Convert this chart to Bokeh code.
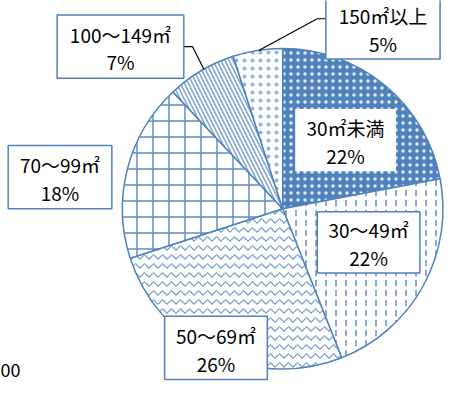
import math
from bokeh.plotting import figure
from bokeh.models import Range1d
from bokeh.core.properties import value
from bokeh.embed import file_html
from bokeh.resources import INLINE

# ---- data ----
categories = ["30㎡未満", "30～49㎡", "50～69㎡", "70～99㎡", "100～149㎡", "150㎡以上"]
shares = [22, 22, 26, 18, 7, 5]
pct_labels = ["22%", "22%", "26%", "18%", "7%", "5%"]

# ---- styles ----
BLUE = "#4F81BD"
fills = [BLUE, "white", "white", "white", "white", "white"]
hatches = ["dot", "vertical_dash", "horizontal_wave", "cross", "left_diagonal_line", "dot"]
hatch_colors = ["white", BLUE, BLUE, BLUE, BLUE, BLUE]
hatch_scales = [7, 10, 9, 16, 8, 8]
hatch_weights = [1.0, 1.6, 1.2, 1.5, 1.6, 1.4]
hatch_alphas = [0.85, 0.85, 0.8, 0.9, 0.7, 0.6]

# ---- layout (reference pixel coordinates; y measured from top) ----
W, H = 469, 398
FW, FH = 453, 382
S = FH / H  # uniform scale so the whole reference fits the figure
cx, cy, R = 294, 217, 167
# label box: center x, center y (from top), width, height, bordered
boxes = [
    (359.5, 145.5, 105, 65, False),
    (383.5, 252, 107, 64, True),
    (224.5, 362, 107, 66, True),
    (62, 184, 108, 66, True),
    (125, 48, 132, 66, True),
    (398.5, 28.5, 119, 65, True),
]
leaders = [
    ([191, 200, 212], [48, 48, 72]),
    ([339, 330, 269], [19, 19, 52]),
]

def fy(y):
    return H - y

p = figure(width=FW, height=FH, output_backend="svg", toolbar_location=None,
           x_range=Range1d(0, FW / S), y_range=Range1d(0, H),
           min_border=0, min_border_left=0, min_border_right=0,
           min_border_top=0, min_border_bottom=0)
p.axis.visible = False
p.grid.visible = False
p.outline_line_color = None
p.background_fill_color = "white"
p.border_fill_color = "white"

total = float(sum(shares))
cum = 0.0
for i, s in enumerate(shares):
    a0 = math.pi / 2 - 2 * math.pi * cum / total
    cum += s
    a1 = math.pi / 2 - 2 * math.pi * cum / total
    p.wedge(x=cx, y=fy(cy), radius=R, start_angle=a0, end_angle=a1,
            direction="clock", fill_color=fills[i], line_color=BLUE, line_width=1.5,
            hatch_pattern=hatches[i], hatch_color=hatch_colors[i],
            hatch_scale=hatch_scales[i], hatch_weight=hatch_weights[i],
            hatch_alpha=hatch_alphas[i])

for xs, ys in leaders:
    p.line(x=xs, y=[fy(v) for v in ys], line_color="black", line_width=1.2)

font = value("Noto Sans CJK JP")
for i, (bx, by, bw, bh, border) in enumerate(boxes):
    p.rect(x=bx, y=fy(by), width=bw, height=bh, fill_color="white",
           line_color=BLUE if border else None, line_width=1.5)
    p.text(x=[bx], y=[fy(by - 13)], text=[categories[i]], text_font=font,
           text_font_size="19px", text_align="center", text_baseline="middle",
           text_color="black")
    p.text(x=[bx], y=[fy(by + 16)], text=[pct_labels[i]], text_font=font,
           text_font_size="19px", text_align="center", text_baseline="middle",
           text_color="black")

p.text(x=[0], y=[fy(385)], text=["00"], text_font=font, text_font_size="18px",
       text_align="left", text_baseline="middle", text_color="black")

open("out.html", "w").write(file_html(p, INLINE))
